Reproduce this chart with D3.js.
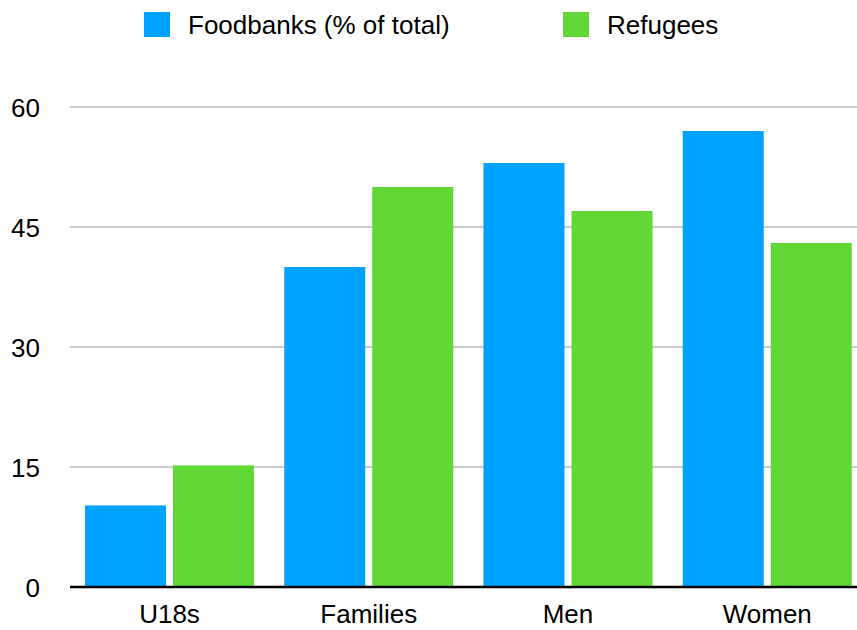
<!DOCTYPE html>
<html>
<head>
<meta charset="utf-8">
<script src="https://cdn.jsdelivr.net/npm/d3@7"></script>
<style>
  body { margin: 0; background: #fff; }
  svg { display: block; font-family: "Liberation Sans", Arial, Helvetica, sans-serif; }
</style>
</head>
<body>
<svg id="chart" width="857" height="630"></svg>
<script>
// data
var categories = ['U18s', 'Families', 'Men', 'Women'];
var seriesNames = ['Foodbanks (% of total)', 'Refugees'];
var foodbanks = [10.2, 40, 53, 57];
var refugees = [15.2, 50, 47, 43];
var yTicks = [0, 15, 30, 45, 60];
var colors = ['#00A2FF', '#61D836'];

var svg = d3.select('#chart');

var y = d3.scaleLinear().domain([0, 60]).range([587, 107]);
var x = d3.scaleBand().domain(categories).range([70, 867]).paddingInner(0).paddingOuter(0);
var xs = d3.scaleBand().domain(seriesNames).range([15, 184]).paddingInner(0.08).paddingOuter(0);

// gridlines
svg.append('g')
    .selectAll('line')
    .data(yTicks.filter(function(d) { return d > 0; }))
    .enter().append('line')
    .attr('x1', 70).attr('x2', 857)
    .attr('y1', function(d) { return y(d); })
    .attr('y2', function(d) { return y(d); })
    .attr('stroke', '#cccccc')
    .attr('stroke-width', 2);

// y labels
svg.append('g')
    .selectAll('text')
    .data(yTicks)
    .enter().append('text')
    .attr('x', 40)
    .attr('y', function(d) { return y(d); })
    .attr('dy', '0.37em')
    .attr('text-anchor', 'end')
    .attr('font-size', 26)
    .attr('fill', '#000')
    .text(function(d) { return d; });

// bars
var rows = categories.map(function(c, i) {
    return { cat: c, vals: [foodbanks[i], refugees[i]] };
});

var groups = svg.append('g')
    .selectAll('g')
    .data(rows)
    .enter().append('g')
    .attr('transform', function(d) { return 'translate(' + x(d.cat) + ',0)'; });

groups.selectAll('rect')
    .data(function(d) { return d.vals.map(function(v, j) { return { s: seriesNames[j], v: v, j: j }; }); })
    .enter().append('rect')
    .attr('x', function(d) { return xs(d.s); })
    .attr('width', xs.bandwidth())
    .attr('y', function(d) { return y(d.v); })
    .attr('height', function(d) { return y(0) - y(d.v); })
    .attr('fill', function(d) { return colors[d.j]; });

// zero axis
svg.append('line')
    .attr('x1', 70).attr('x2', 857)
    .attr('y1', y(0)).attr('y2', y(0))
    .attr('stroke', '#000')
    .attr('stroke-width', 2.5);

// x labels
svg.append('g')
    .selectAll('text')
    .data(categories)
    .enter().append('text')
    .attr('x', function(d) { return x(d) + 15 + 169 / 2; })
    .attr('y', 623)
    .attr('text-anchor', 'middle')
    .attr('font-size', 26)
    .attr('fill', '#000')
    .text(function(d) { return d; });

// legend
var legendX = [144, 563];
var legend = svg.append('g')
    .selectAll('g')
    .data(seriesNames)
    .enter().append('g')
    .attr('transform', function(d, i) { return 'translate(' + legendX[i] + ',0)'; });

legend.append('rect')
    .attr('x', 0).attr('y', 12)
    .attr('width', 26).attr('height', 25)
    .attr('fill', function(d, i) { return colors[i]; });

legend.append('text')
    .attr('x', 44)
    .attr('y', 34)
    .attr('font-size', 26)
    .attr('fill', '#000')
    .text(function(d) { return d; });
</script>
</body>
</html>
